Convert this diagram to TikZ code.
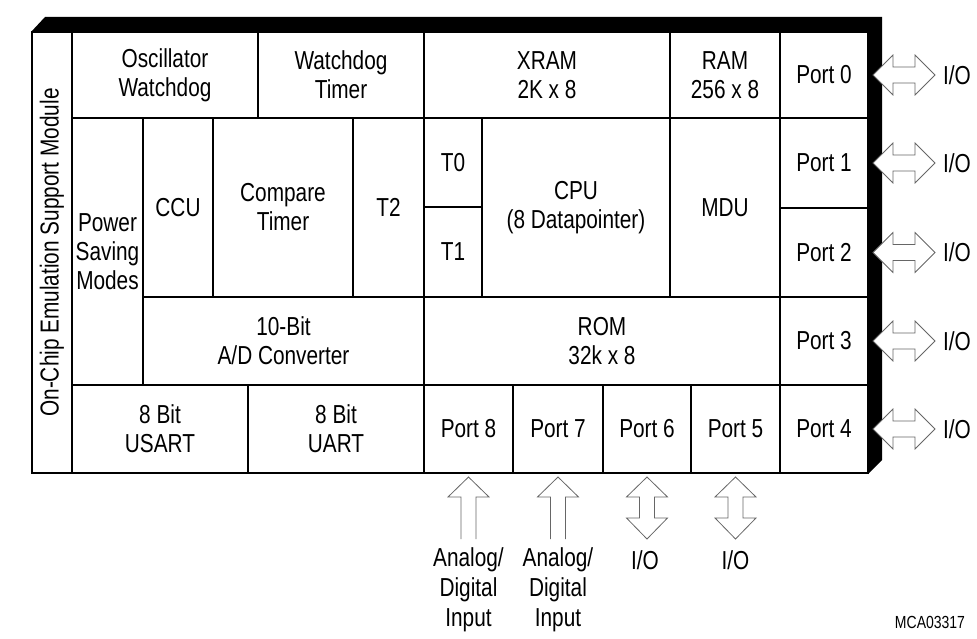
\documentclass[tikz,border=0pt]{standalone}
\usepackage{fontspec}
\setmainfont{Liberation Sans}[FakeStretch=0.8]
\usetikzlibrary{calc}
\newcommand{\blk}[6]{\node[cell,minimum width={#4pt-#2pt},minimum height={#5pt-#3pt}] (#1) at ({(#2+#4)/2},{(#3+#5)/2}) {#6};}
\begin{document}
\begin{tikzpicture}[x=1pt,y=-1pt,
  font=\fontsize{26}{29}\selectfont,
  cell/.style={draw=black,line width=2.3pt,inner sep=0pt,outer sep=0pt,align=center},
  arr/.style={draw=black!60,line width=0.8pt,fill=white,line join=miter},
  lbl/.style={inner sep=0pt,align=center,font=\fontsize{26}{30}\selectfont},
  dblh/.pic={\draw[arr] (5,0) -- (25,-20) -- (25,-8) -- (47,-8) -- (47,-20) -- (67,0) -- (47,20) -- (47,8) -- (25,8) -- (25,20) -- cycle;},
  uparr/.pic={\draw[arr] (-7.5,66) -- (-7.5,24) -- (-20.5,24) -- (0,4) -- (20.5,24) -- (7.5,24) -- (7.5,66);},
  vdbl/.pic={\draw[arr] (0,4) -- (20.5,24) -- (7.5,24) -- (7.5,45) -- (20.5,45) -- (0,66) -- (-20.5,45) -- (-7.5,45) -- (-7.5,24) -- (-20.5,24) -- cycle;}
]
\useasboundingbox (0,0) rectangle (977,639);
% shadow
\fill[black] (31,32) -- (45,17) -- (882,17) -- (882,460) -- (868,474) -- (868,32) -- cycle;
\fill[white] (32,32) rectangle (868,473);
% cells
\blk{emu}{32}{32}{72}{473}{}
\node[rotate=90,inner sep=0pt] (emutxt) at (emu.center) {On-Chip Emulation Support Module};
\blk{osc}{72}{32}{258}{118}{Oscillator\\Watchdog}
\blk{wdt}{258}{32}{424}{118}{Watchdog\\Timer}
\blk{xram}{424}{32}{670}{118}{XRAM\\2K x 8}
\blk{ram}{670}{32}{780}{118}{RAM\\256 x 8}
\blk{p0}{780}{32}{868}{118}{Port 0}
\blk{psm}{72}{118}{143}{385}{Power\\Saving\\Modes}
\blk{ccu}{143}{118}{213}{297}{CCU}
\blk{cmp}{213}{118}{353}{297}{Compare\\Timer}
\blk{t2}{353}{118}{424}{297}{T2}
\blk{t0}{424}{118}{482}{207}{T0}
\blk{t1}{424}{207}{482}{297}{T1}
\blk{cpu}{482}{118}{670}{297}{CPU\\(8 Datapointer)}
\blk{mdu}{670}{118}{780}{297}{MDU}
\blk{p1}{780}{118}{868}{208}{Port 1}
\blk{p2}{780}{208}{868}{297}{Port 2}
\blk{adc}{143}{297}{424}{385}{10-Bit\\A/D Converter}
\blk{rom}{424}{297}{780}{385}{ROM\\32k x 8}
\blk{p3}{780}{297}{868}{385}{Port 3}
\blk{usart}{72}{385}{248}{473}{8 Bit\\USART}
\blk{uart}{248}{385}{424}{473}{8 Bit\\UART}
\blk{p8}{424}{385}{513}{473}{Port 8}
\blk{p7}{513}{385}{603}{473}{Port 7}
\blk{p6}{603}{385}{691}{473}{Port 6}
\blk{p5}{691}{385}{780}{473}{Port 5}
\blk{p4}{780}{385}{868}{473}{Port 4}
% right arrows
\foreach \p in {p0,p1,p2,p3,p4}{
  \pic at (\p.east) {dblh};
  \node[lbl] (io\p) at ($(\p.east)+(89,0)$) {I/O};
}
% bottom arrows
\pic at (p8.south) {uparr};
\pic at (p7.south) {uparr};
\pic at (p6.south) {vdbl};
\pic at (p5.south) {vdbl};
\node[lbl] (in8) at ($(p8.south)+(0,117)$) {Analog/\\Digital\\Input};
\node[lbl] (in7) at ($(p7.south)+(0,117)$) {Analog/\\Digital\\Input};
\node[lbl] (io6) at ($(p6.south)+(-2,87)$) {I/O};
\node[lbl] (io5) at ($(p5.south)+(0,87)$) {I/O};
\node[inner sep=0pt,font=\fontsize{17.5}{19}\selectfont] (code) at (930,622) {MCA03317};
\end{tikzpicture}
\end{document}
